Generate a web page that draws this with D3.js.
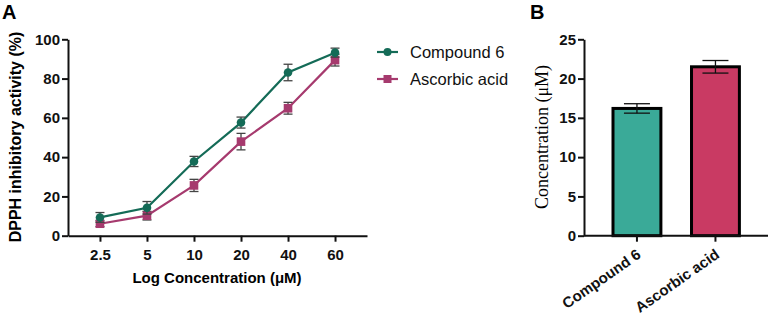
<!DOCTYPE html>
<html>
<head>
<meta charset="utf-8">
<script src="https://cdn.jsdelivr.net/npm/d3@7"></script>
<style>
  body { margin: 0; background: #fff; }
  text { font-family: Arial, "Liberation Sans", sans-serif; }
</style>
</head>
<body>
<svg id="chart" width="770" height="316"></svg>
<script>
// panel A data
const concLabels = ['2.5', '5', '10', '20', '40', '60'];
const compoundVals = [9.3, 14.2, 37.8, 57.6, 83.1, 93.2];
const compoundErr = [2.5, 3.2, 2.6, 2.8, 4.2, 2.3];
const ascorbicVals = [6.1, 10.2, 25.6, 47.9, 64.9, 89.4];
const ascorbicErr = [1.5, 2.2, 3.1, 4.2, 3.0, 3.0];
const yTicksA = [0, 20, 40, 60, 80, 100];

// panel B data
const barNames = ['Compound 6', 'Ascorbic acid'];
const barVals = [16.2, 21.5];
const barErr = [0.6, 0.8];
const yTicksB = [0, 5, 10, 15, 20, 25];

const green = '#146b57';
const pink = '#a63a6e';
const barColors = ['#3aaa98', '#c93a63'];

const svg = d3.select('#chart');

function styleAxis(g) {
  g.selectAll('path, line').attr('stroke', '#111').attr('stroke-width', 2);
  g.selectAll('.tick text')
    .style('font-family', 'Arial, "Liberation Sans", sans-serif')
    .style('font-weight', 'bold')
    .style('font-size', '15px')
    .style('fill', '#111');
}

// ---------- panel A ----------
const xA = d3.scalePoint()
  .domain(concLabels)
  .range([68, 367])
  .padding(0.68);

const yA = d3.scaleLinear()
  .domain([0, 100])
  .range([235.7, 39.3]);

const axA = svg.append('g')
  .attr('transform', 'translate(0, 235.7)')
  .call(d3.axisBottom(xA).tickSize(6).tickSizeOuter(0).tickPadding(6));
axA.selectAll('.tick text').attr('dy', '0.85em');

const ayA = svg.append('g')
  .attr('transform', 'translate(68, 0)')
  .call(d3.axisLeft(yA).tickValues(yTicksA).tickSize(6).tickSizeOuter(0).tickPadding(2));

styleAxis(axA);
styleAxis(ayA);

svg.append('text')
  .text('A')
  .attr('x', 2)
  .attr('y', 19)
  .style('font-size', '20px')
  .style('font-weight', 'bold');

svg.append('text')
  .text('DPPH inhibitory activity (%)')
  .attr('transform', 'translate(21, 137) rotate(-90)')
  .attr('text-anchor', 'middle')
  .style('font-size', '16px')
  .style('font-weight', 'bold');

svg.append('text')
  .text('Log Concentration (μM)')
  .attr('x', 217)
  .attr('y', 283)
  .attr('text-anchor', 'middle')
  .style('font-size', '15px')
  .style('font-weight', 'bold');

const series = [
  { name: 'Compound 6', vals: compoundVals, err: compoundErr, color: green, shape: 'circle' },
  { name: 'Ascorbic acid', vals: ascorbicVals, err: ascorbicErr, color: pink, shape: 'square' }
];

const line = d3.line()
  .x((d, i) => xA(concLabels[i]))
  .y((d) => yA(d));

// draw ascorbic first so compound sits on top
series.slice().reverse().forEach((s) => {
  const g = svg.append('g');
  g.append('path')
    .datum(s.vals)
    .attr('d', line)
    .attr('fill', 'none')
    .attr('stroke', s.color)
    .attr('stroke-width', 2.2);

  const eb = g.selectAll('.eb')
    .data(s.vals)
    .enter()
    .append('g');
  eb.append('line')
    .attr('x1', (d, i) => xA(concLabels[i]))
    .attr('x2', (d, i) => xA(concLabels[i]))
    .attr('y1', (d, i) => yA(d + s.err[i]))
    .attr('y2', (d, i) => yA(d - s.err[i]))
    .attr('stroke', '#444')
    .attr('stroke-width', 1.3);
  [1, -1].forEach((sign) => {
    eb.append('line')
      .attr('x1', (d, i) => xA(concLabels[i]) - 4.5)
      .attr('x2', (d, i) => xA(concLabels[i]) + 4.5)
      .attr('y1', (d, i) => yA(d + sign * s.err[i]))
      .attr('y2', (d, i) => yA(d + sign * s.err[i]))
      .attr('stroke', '#444')
      .attr('stroke-width', 1.3);
  });

  if (s.shape === 'circle') {
    g.selectAll('circle')
      .data(s.vals)
      .enter()
      .append('circle')
      .attr('cx', (d, i) => xA(concLabels[i]))
      .attr('cy', (d) => yA(d))
      .attr('r', 4.3)
      .attr('fill', s.color);
  } else {
    g.selectAll('rect')
      .data(s.vals)
      .enter()
      .append('rect')
      .attr('x', (d, i) => xA(concLabels[i]) - 4.3)
      .attr('y', (d) => yA(d) - 4.3)
      .attr('width', 8.6)
      .attr('height', 8.6)
      .attr('fill', s.color);
  }
});

// legend
const legend = svg.append('g');
series.forEach((s, i) => {
  const ly = 52 + i * 27;
  legend.append('line')
    .attr('x1', 377).attr('x2', 398)
    .attr('y1', ly).attr('y2', ly)
    .attr('stroke', s.color)
    .attr('stroke-width', 2.2);
  if (s.shape === 'circle') {
    legend.append('circle').attr('cx', 387.5).attr('cy', ly).attr('r', 4).attr('fill', s.color);
  } else {
    legend.append('rect').attr('x', 383.5).attr('y', ly - 4).attr('width', 8).attr('height', 8).attr('fill', s.color);
  }
  legend.append('text')
    .text(s.name)
    .attr('x', 410)
    .attr('y', ly + 5.5)
    .style('font-size', '16.5px')
    .style('fill', '#111');
});

// ---------- panel B ----------
const xB = d3.scaleBand()
  .domain(barNames)
  .range([597.3, 755.1])
  .paddingInner(0.39)
  .paddingOuter(0.2);

const yB = d3.scaleLinear()
  .domain([0, 25])
  .range([235.7, 39.3]);

svg.append('text')
  .text('B')
  .attr('x', 530)
  .attr('y', 19)
  .style('font-size', '20px')
  .style('font-weight', 'bold');

svg.append('g')
  .selectAll('rect')
  .data(barVals)
  .enter()
  .append('rect')
  .attr('x', (d, i) => xB(barNames[i]))
  .attr('y', (d) => yB(d))
  .attr('width', xB.bandwidth())
  .attr('height', (d) => yB(0) - yB(d))
  .attr('fill', (d, i) => barColors[i])
  .attr('stroke', '#000')
  .attr('stroke-width', 3);

const ebB = svg.append('g')
  .selectAll('g')
  .data(barVals)
  .enter()
  .append('g');
const cxB = (i) => xB(barNames[i]) + xB.bandwidth() / 2;
ebB.append('line')
  .attr('x1', (d, i) => cxB(i))
  .attr('x2', (d, i) => cxB(i))
  .attr('y1', (d, i) => yB(d + barErr[i]))
  .attr('y2', (d, i) => yB(d - barErr[i]))
  .attr('stroke', '#111')
  .attr('stroke-width', 1.3);
[1, -1].forEach((sign) => {
  ebB.append('line')
    .attr('x1', (d, i) => cxB(i) - 13)
    .attr('x2', (d, i) => cxB(i) + 13)
    .attr('y1', (d, i) => yB(d + sign * barErr[i]))
    .attr('y2', (d, i) => yB(d + sign * barErr[i]))
    .attr('stroke', '#111')
    .attr('stroke-width', 1.3);
});

const axB = svg.append('g')
  .attr('transform', 'translate(0, 235.7)')
  .call(d3.axisBottom(xB).tickSize(6).tickSizeOuter(0).tickPadding(4));
axB.select('.domain').attr('d', 'M584,0H768');

const ayB = svg.append('g')
  .attr('transform', 'translate(584, 0)')
  .call(d3.axisLeft(yB).tickValues(yTicksB).tickSize(6).tickSizeOuter(0).tickPadding(2));

styleAxis(axB);
styleAxis(ayB);

axB.selectAll('.tick text')
  .attr('x', 0)
  .attr('y', 0)
  .attr('dy', 0)
  .attr('text-anchor', 'end')
  .attr('transform', 'translate(5, 21) rotate(-35)');

svg.append('text')
  .text('Concentration (μM)')
  .attr('transform', 'translate(548, 137) rotate(-90)')
  .attr('text-anchor', 'middle')
  .style('font-family', '"Liberation Serif", "Times New Roman", serif')
  .style('font-size', '18px');
</script>
</body>
</html>
